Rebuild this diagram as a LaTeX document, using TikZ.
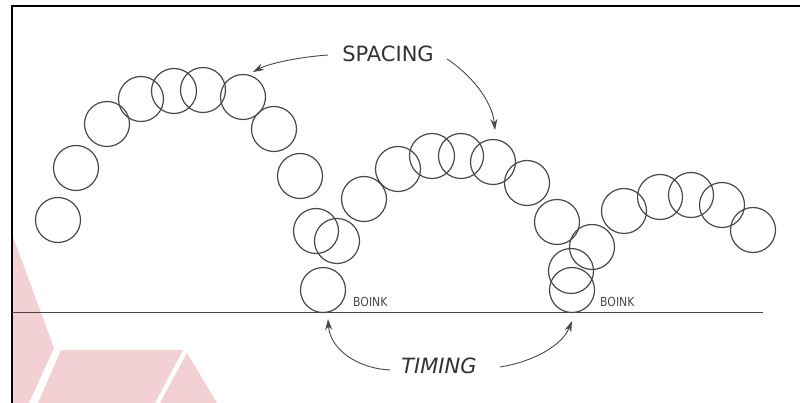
\documentclass[tikz,border=0pt]{standalone}
\usepackage{fontspec}
\setmainfont{DejaVu Sans}
\usetikzlibrary{arrows.meta}
\definecolor{pencil}{RGB}{72,72,72}
\definecolor{wmpink}{RGB}{242,208,212}
\begin{document}
\begin{tikzpicture}[x=1pt,y=-1pt,
  ball/.style={circle,draw=pencil,line width=1.2pt,minimum size=45pt,inner sep=0pt},
  bigtxt/.style={text=pencil!70!black,font=\fontsize{21}{21}\selectfont,inner sep=0pt,anchor=base},
  smalltxt/.style={text=pencil,font=\fontsize{12.5}{12.5}\selectfont,inner sep=0pt,anchor=base west,xscale=0.87},
  arr/.style={draw=pencil,line width=0.9pt,-{Stealth[length=11pt,width=7pt]}}]
\useasboundingbox (0,0) rectangle (800,403);
% watermark
\fill[wmpink] (12,234) -- (54,348) -- (29,403) -- (12,403) -- cycle;
\fill[wmpink] (61,350) -- (183,350) -- (155,403) -- (38,403) -- cycle;
\fill[wmpink] (187,353) -- (217,403) -- (160,403) -- cycle;
% frame
\draw[line width=2.2pt] (12,403) -- (12,6) -- (800,6);
% ground
\coordinate (g1) at (12,312.5);
\coordinate (g2) at (763,312.5);
\draw[pencil,line width=1.3pt] (g1) -- (g2);
% first bounce
\node[ball] (a1) at (58,220) {};
\node[ball] (a2) at (76,168) {};
\node[ball] (a3) at (107,124) {};
\node[ball] (a4) at (141,99) {};
\node[ball] (a5) at (174,91) {};
\node[ball] (a6) at (203,90) {};
\node[ball] (a7) at (243,97) {};
\node[ball] (a8) at (274,129) {};
\node[ball] (a9) at (300,176) {};
\node[ball] (a10) at (316,231) {};
\node[ball] (a11) at (337,241) {};
\node[ball] (a12) at (323,290) {};
% second bounce
\node[ball] (b1) at (364,199) {};
\node[ball] (b2) at (398,169) {};
\node[ball] (b3) at (432,156) {};
\node[ball] (b4) at (461,156) {};
\node[ball] (b5) at (493,162) {};
\node[ball] (b6) at (527,183) {};
\node[ball] (b7) at (557,222) {};
\node[ball] (b8) at (592,247) {};
\node[ball] (b9) at (571,271) {};
\node[ball] (b10) at (572,290) {};
% third bounce
\node[ball] (c1) at (624,211) {};
\node[ball] (c2) at (660,197) {};
\node[ball] (c3) at (691,195) {};
\node[ball] (c4) at (722,205) {};
\node[ball] (c5) at (753,230) {};
% labels
\node[bigtxt] (spacing) at (388,62) {SPACING};
\node[bigtxt,font=\fontsize{21}{21}\selectfont\itshape] (timing) at (439,373) {TIMING};
\node[smalltxt] (boink1) at (353,306) {BOINK};
\node[smalltxt] (boink2) at (600,306) {BOINK};
% arrows
\coordinate (s1a) at (328,55);
\coordinate (s1b) at (253,72);
\coordinate (s2a) at (447,59);
\coordinate (s2b) at (495,130);
\coordinate (t1a) at (390,370);
\coordinate (t1b) at (328,319);
\coordinate (t2a) at (500,367);
\coordinate (t2b) at (572,321);
\draw[arr] (s1a) .. controls (300,57) and (270,63) .. (s1b);
\draw[arr] (s2a) .. controls (470,74) and (492,100) .. (s2b);
\draw[arr] (t1a) .. controls (355,368) and (330,348) .. (t1b);
\draw[arr] (t2a) .. controls (532,362) and (562,346) .. (t2b);
\end{tikzpicture}
\end{document}
